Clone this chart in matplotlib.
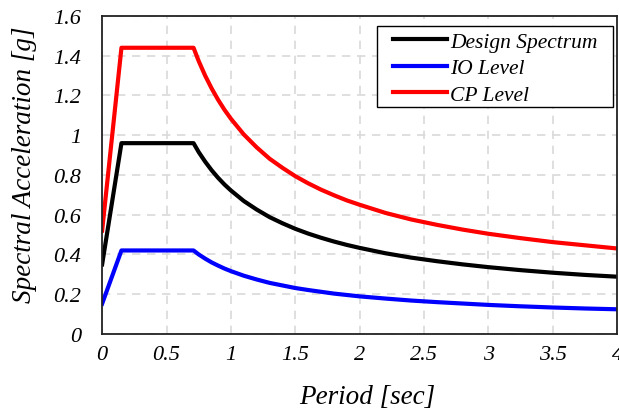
import matplotlib.pyplot as plt
from matplotlib.patches import Rectangle

# Periodo (s) y aceleraciones espectrales
periodo = [0.0, 0.15, 0.71, 0.75, 0.8, 0.85, 0.9, 0.95, 1.0, 1.1, 1.2, 1.3, 1.4,
           1.5, 1.6, 1.7, 1.8, 1.9, 2.0, 2.2, 2.4, 2.6, 2.8, 3.0, 3.25, 3.5, 3.75, 4.0]
espectro_diseno = [0.35, 0.96, 0.96, 0.915, 0.867, 0.824, 0.786, 0.752, 0.722, 0.669,
                   0.626, 0.588, 0.557, 0.529, 0.505, 0.484, 0.465, 0.448, 0.433, 0.406,
                   0.384, 0.366, 0.350, 0.336, 0.321, 0.308, 0.297, 0.288]
nivel_io = [0.152, 0.42, 0.42, 0.40, 0.379, 0.36, 0.344, 0.329, 0.316, 0.293,
            0.274, 0.257, 0.244, 0.231, 0.221, 0.212, 0.203, 0.196, 0.189, 0.178,
            0.168, 0.16, 0.153, 0.146, 0.139, 0.133, 0.128, 0.124]
nivel_cp = [0.52, 1.44, 1.44, 1.373, 1.30, 1.236, 1.179, 1.128, 1.083, 1.004,
            0.939, 0.882, 0.836, 0.794, 0.758, 0.726, 0.698, 0.672, 0.65, 0.609,
            0.576, 0.549, 0.525, 0.504, 0.482, 0.462, 0.446, 0.43]

xticks = [0, 0.5, 1, 1.5, 2, 2.5, 3, 3.5, 4]
xtick_labels = ['0', '0.5', '1', '1.5', '2', '2.5', '3', '3.5', '4']
yticks = [0, 0.2, 0.4, 0.6, 0.8, 1.0, 1.2, 1.4, 1.6]
ytick_labels = ['0', '0.2', '0.4', '0.6', '0.8', '1', '1.2', '1.4', '1.6']

plt.rcParams['font.family'] = ['Liberation Serif', 'DejaVu Serif']
plt.rcParams['font.style'] = 'italic'

fig = plt.figure(figsize=(6.19, 4.14), dpi=100)
ax = fig.add_axes([0.165, 0.191, 0.832, 0.768])

ax.plot(periodo, espectro_diseno, color='black', linewidth=3, label='Design Spectrum')
ax.plot(periodo, nivel_io, color='blue', linewidth=3, label='IO Level')
ax.plot(periodo, nivel_cp, color='red', linewidth=3, label='CP Level')

ax.set_xlim(0, 4)
ax.set_ylim(0, 1.6)
ax.set_xticks(xticks)
ax.set_xticklabels(xtick_labels, fontsize=16)
ax.set_yticks(yticks)
ax.set_yticklabels(ytick_labels, fontsize=16)
ax.tick_params(axis='x', length=0, pad=8)
ax.tick_params(axis='y', length=0, pad=15)

ax.grid(True, color='#d9d9d9', linestyle=(0, (5, 4)), linewidth=1.2)
for s in ax.spines.values():
    s.set_linewidth(1.3)
    s.set_color('#222222')

ax.set_xlabel('Period [sec]', fontsize=19.5)
ax.set_ylabel('Spectral Acceleration [g]', fontsize=19.5)
ax.xaxis.set_label_coords(0.515, -0.158)
ax.yaxis.set_label_coords(-0.126, 0.535)

# caja de la leyenda con más margen lateral, como en Excel
ax.add_patch(Rectangle((0.5346, 0.7129), 0.4571, 0.2566, transform=ax.transAxes,
                       facecolor='white', edgecolor='black', linewidth=1.0, zorder=4))
leg = ax.legend(loc='upper left', fontsize=15.5, frameon=False,
                handlelength=2.5, handletextpad=0.15, borderpad=0,
                labelspacing=0.3, borderaxespad=0, bbox_to_anchor=(0.5645, 0.950))
leg.set_zorder(5)

plt.savefig('out.png', dpi=100)
plt.close()
